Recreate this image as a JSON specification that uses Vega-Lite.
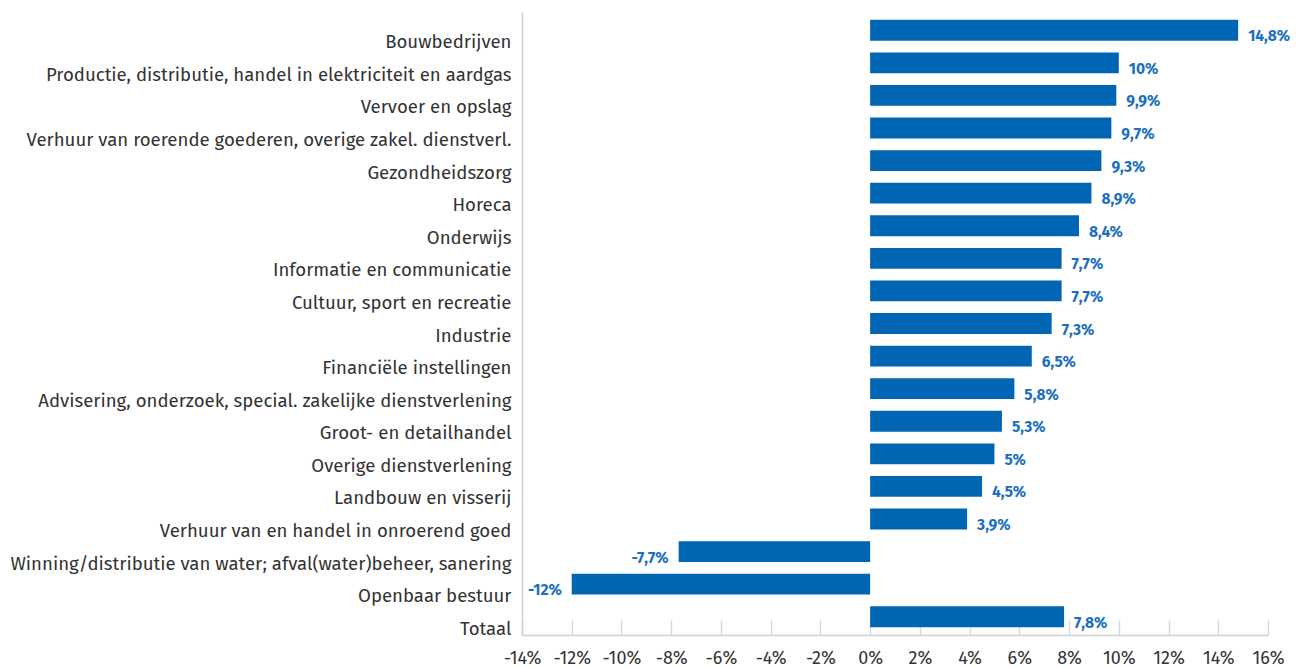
{
  "$schema": "https://vega.github.io/schema/vega-lite/v6.json",
  "width": 746,
  "height": 623,
  "autosize": {"type": "none"},
  "padding": {"left": 522, "top": 12, "right": 31, "bottom": 32},
  "background": "white",
  "config": {
    "view": {"stroke": null},
    "font": "Fira Sans, Noto Sans",
    "locale": {"number": {"decimal": ",", "thousands": ".", "grouping": [3], "currency": ["€", ""], "minus": "-"}}
  },
  "data": {
    "values": [
      {"sector": "Bouwbedrijven", "value": 0.148},
      {"sector": "Productie, distributie, handel in elektriciteit en aardgas", "value": 0.10},
      {"sector": "Vervoer en opslag", "value": 0.099},
      {"sector": "Verhuur van roerende goederen, overige zakel. dienstverl.", "value": 0.097},
      {"sector": "Gezondheidszorg", "value": 0.093},
      {"sector": "Horeca", "value": 0.089},
      {"sector": "Onderwijs", "value": 0.084},
      {"sector": "Informatie en communicatie", "value": 0.077},
      {"sector": "Cultuur, sport en recreatie", "value": 0.077},
      {"sector": "Industrie", "value": 0.073},
      {"sector": "Financiële instellingen", "value": 0.065},
      {"sector": "Advisering, onderzoek, special. zakelijke dienstverlening", "value": 0.058},
      {"sector": "Groot- en detailhandel", "value": 0.053},
      {"sector": "Overige dienstverlening", "value": 0.05},
      {"sector": "Landbouw en visserij", "value": 0.045},
      {"sector": "Verhuur van en handel in onroerend goed", "value": 0.039},
      {"sector": "Winning/distributie van water; afval(water)beheer, sanering", "value": -0.077},
      {"sector": "Openbaar bestuur", "value": -0.12},
      {"sector": "Totaal", "value": 0.078}
    ]
  },
  "encoding": {
    "y": {
      "field": "sector", "type": "nominal", "sort": null,
      "scale": {"paddingInner": 0.36, "paddingOuter": 0.24},
      "axis": {
        "title": null, "ticks": false, "domainColor": "#d0d0d0", "domainWidth": 1.5,
        "labelFontSize": 18.6, "labelColor": "#333333", "labelPadding": 11,
        "labelFont": "Fira Sans, Noto Sans", "labelLimit": 600, "labelOffset": 12
      }
    },
    "x": {
      "field": "value", "type": "quantitative",
      "scale": {"domain": [-0.14, 0.16], "nice": false, "zero": true},
      "axis": {
        "title": null, "format": ".0%", "values": [-0.14,-0.12,-0.10,-0.08,-0.06,-0.04,-0.02,0,0.02,0.04,0.06,0.08,0.10,0.12,0.14,0.16],
        "grid": false, "domainColor": "#d0d0d0", "domainWidth": 1.5,
        "tickColor": "#d8d8d8", "tickSize": -15, "tickWidth": 1.5,
        "labelFontSize": 18, "labelColor": "#333333", "labelPadding": 29,
        "labelOverlap": false, "labelFlush": false, "labelBound": false
      }
    }
  },
  "layer": [
    {"mark": {"type": "bar", "color": "#0066b3"}},
    {
      "transform": [{"filter": "datum.value >= 0"}],
      "mark": {"type": "text", "align": "left", "dx": 10, "dy": 6, "fontSize": 15.5, "fontWeight": "bold", "color": "#1a6fbf"},
      "encoding": {"text": {"field": "value", "type": "quantitative", "format": ".1~%"}}
    },
    {
      "transform": [{"filter": "datum.value < 0"}],
      "mark": {"type": "text", "align": "right", "dx": -10, "dy": 6, "fontSize": 15.5, "fontWeight": "bold", "color": "#1a6fbf"},
      "encoding": {"text": {"field": "value", "type": "quantitative", "format": ".1~%"}}
    }
  ]
}
